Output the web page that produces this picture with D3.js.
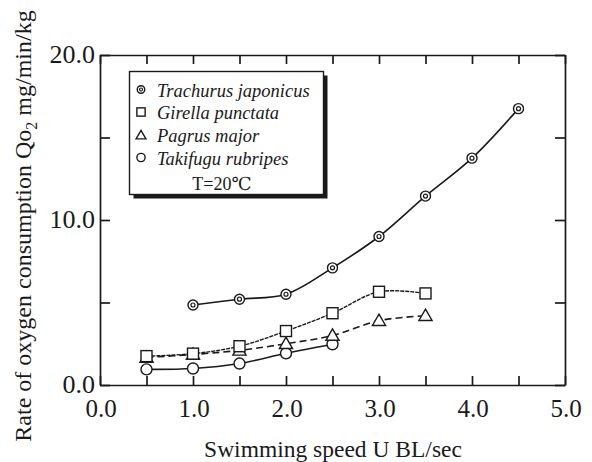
<!DOCTYPE html>
<html>
<head>
<meta charset="utf-8">
<script src="https://cdn.jsdelivr.net/npm/d3@7"></script>
<style>
  body { margin: 0; background: #fff; }
  svg text { font-family: "Liberation Serif", "DejaVu Serif", serif; fill: #1a1a1a; }
</style>
</head>
<body>
<div id="chart"></div>
<script>
const speeds = [0.5, 1.0, 1.5, 2.0, 2.5, 3.0, 3.5, 4.0, 4.5];
const trachurus = [null, 4.85, 5.2, 5.5, 7.1, 9.0, 11.45, 13.75, 16.75];
const girella = [1.75, 1.9, 2.35, 3.27, 4.35, 5.65, 5.55, null, null];
const pagrus = [1.67, 1.85, 2.1, 2.5, 3.0, 3.9, 4.2, null, null];
const takifugu = [0.95, 1.0, 1.3, 1.92, 2.47, null, null, null, null];
const xTicks = [0, 1, 2, 3, 4, 5];
const yTicks = [0, 10, 20];
const seriesNames = ["Trachurus japonicus", "Girella punctata", "Pagrus major", "Takifugu rubripes"];

const W = 592, H = 462;
const margin = { top: 55, right: 27, bottom: 77, left: 100 };
const ink = "#1a1a1a";

const svg = d3.select("#chart").append("svg")
  .attr("width", W).attr("height", H);

const x = d3.scaleLinear().domain([0, 5]).range([margin.left, W - margin.right]);
const y = d3.scaleLinear().domain([0, 20]).range([H - margin.bottom, margin.top]);

// frame with inward ticks on all sides
const minorX = d3.range(0, 5.01, 0.5);
const minorY = d3.range(0, 20.01, 5);
svg.append("g").attr("transform", `translate(0,${y(0)})`)
  .call(d3.axisBottom(x).tickValues(minorX).tickSizeInner(-9).tickSizeOuter(0).tickFormat(""));
svg.append("g").attr("transform", `translate(0,${y(20)})`)
  .call(d3.axisTop(x).tickValues(minorX).tickSizeInner(-9).tickSizeOuter(0).tickFormat(""));
svg.append("g").attr("transform", `translate(${x(0)},0)`)
  .call(d3.axisLeft(y).tickValues(minorY).tickSizeInner(-10).tickSizeOuter(0).tickFormat(""));
svg.append("g").attr("transform", `translate(${x(5)},0)`)
  .call(d3.axisRight(y).tickValues(minorY).tickSizeInner(-10).tickSizeOuter(0).tickFormat(""));
svg.selectAll(".domain, .tick line").attr("stroke", ink).attr("stroke-width", 1.7);

// tick labels
svg.append("g").selectAll("text").data(xTicks).join("text")
  .attr("x", d => x(d) + 1).attr("y", y(0) + 32)
  .attr("text-anchor", "middle").attr("font-size", 25)
  .text(d => d.toFixed(1));
svg.append("g").selectAll("text").data(yTicks).join("text")
  .attr("x", x(0) - 5).attr("y", d => y(d) + 8)
  .attr("text-anchor", "end").attr("font-size", 26)
  .text(d => d.toFixed(1));

// axis titles
svg.append("text")
  .attr("x", 333).attr("y", 457)
  .attr("text-anchor", "middle").attr("font-size", 23.5)
  .text("Swimming speed U BL/sec");
const yt = svg.append("text")
  .attr("transform", `translate(31,226) rotate(-90)`)
  .attr("text-anchor", "middle").attr("font-size", 24);
yt.append("tspan").text("Rate of oxygen consumption Qo");
yt.append("tspan").attr("font-size", 16).attr("dy", 6).text("2");
yt.append("tspan").attr("dy", -6).text(" mg/min/kg");

// lines
const line = d3.line()
  .defined(d => d[1] != null)
  .x(d => x(d[0])).y(d => y(d[1]))
  .curve(d3.curveCatmullRom.alpha(0.5));
const pts = arr => speeds.map((s, i) => [s, arr[i]]).filter(d => d[1] != null);

const series = [
  { data: pts(trachurus), dash: null, width: 1.6 },
  { data: pts(girella), dash: "4,1", width: 1.4 },
  { data: pts(pagrus), dash: "7,4", width: 1.6 },
  { data: pts(takifugu), dash: null, width: 1.6 }
];
series.forEach(s => {
  svg.append("path").datum(s.data)
    .attr("fill", "none").attr("stroke", ink)
    .attr("stroke-width", s.width)
    .attr("stroke-dasharray", s.dash)
    .attr("d", line);
});

// markers
function marker(g, kind, cx, cy, scale = 1) {
  if (kind === 0) {
    g.append("circle").attr("cx", cx).attr("cy", cy).attr("r", 5 * scale)
      .attr("fill", "#fff").attr("stroke", ink).attr("stroke-width", 1.4);
    g.append("circle").attr("cx", cx).attr("cy", cy).attr("r", 2 * scale)
      .attr("fill", "#fff").attr("stroke", ink).attr("stroke-width", 1.2);
  } else if (kind === 1) {
    const s = 11 * scale;
    g.append("rect").attr("x", cx - s / 2).attr("y", cy - s / 2)
      .attr("width", s).attr("height", s)
      .attr("fill", "#fff").attr("stroke", ink).attr("stroke-width", 1.4);
  } else if (kind === 2) {
    g.append("path")
      .attr("transform", `translate(${cx},${cy + 1})`)
      .attr("d", d3.symbol(d3.symbolTriangle, 75 * scale * scale)())
      .attr("fill", "#fff").attr("stroke", ink).attr("stroke-width", 1.4);
  } else {
    g.append("circle").attr("cx", cx).attr("cy", cy).attr("r", 5.5 * scale)
      .attr("fill", "#fff").attr("stroke", ink).attr("stroke-width", 1.4);
  }
}
const mg = svg.append("g");
[3, 2, 1, 0].forEach(k => {
  series[k].data.forEach(d => marker(mg, k, x(d[0]), y(d[1])));
});

// legend
const lg = svg.append("g");
lg.append("rect").attr("x", 133.5).attr("y", 75.5).attr("width", 194).attr("height", 123).attr("fill", ink);
lg.append("rect").attr("x", 129.5).attr("y", 71.5).attr("width", 194).attr("height", 123)
  .attr("fill", "#fff").attr("stroke", ink).attr("stroke-width", 1.4);
const rowY = [89.5, 112, 135, 157.5];
seriesNames.forEach((name, i) => {
  marker(lg, i, 141, rowY[i], 0.75);
  lg.append("text").attr("x", 157).attr("y", rowY[i] + 7)
    .attr("font-size", 18.5).attr("font-style", "italic").text(name);
});
lg.append("text").attr("x", 222).attr("y", 190)
  .attr("text-anchor", "middle").attr("font-size", 18).text("T=20\u2103");
</script>
</body>
</html>
